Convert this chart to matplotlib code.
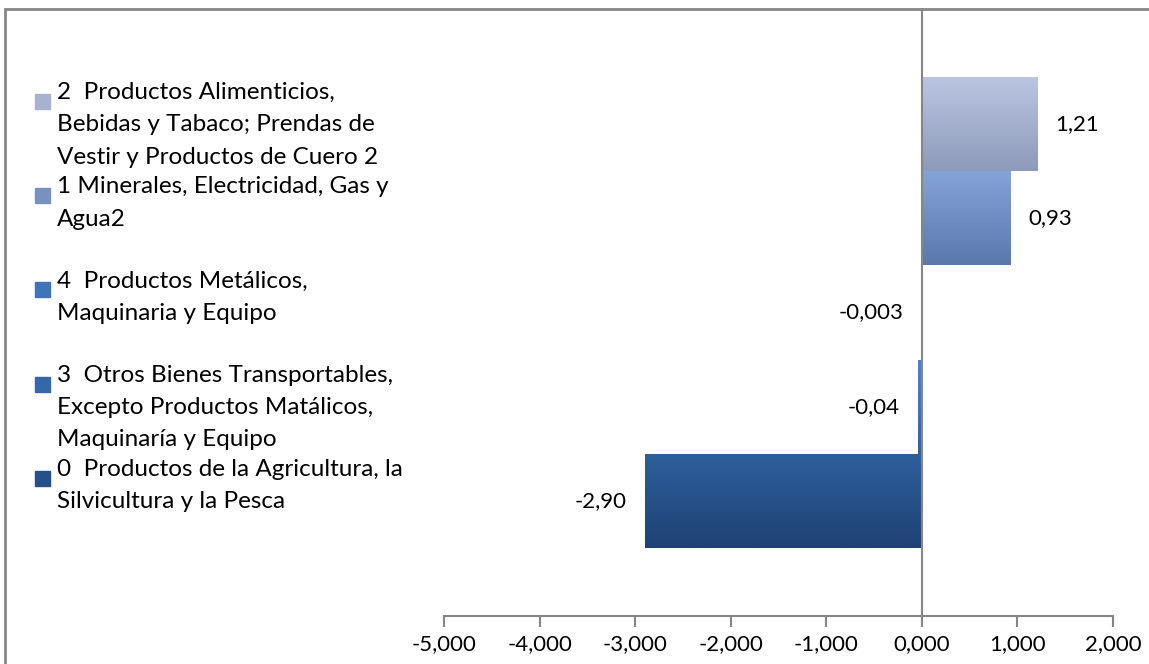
import numpy as np
import matplotlib
matplotlib.use('Agg')
import matplotlib.pyplot as plt
import matplotlib.transforms as mtransforms
from matplotlib.colors import LinearSegmentedColormap
from matplotlib.patches import Rectangle
from matplotlib.ticker import FuncFormatter, MultipleLocator

plt.rcParams['font.family'] = ['Lato', 'DejaVu Sans']

# Series, top to bottom as in the chart
labels = [
    "2  Productos Alimenticios,\nBebidas y Tabaco; Prendas de\nVestir y Productos de Cuero 2",
    "1 Minerales, Electricidad, Gas y\nAgua2",
    "4  Productos Metálicos,\nMaquinaria y Equipo",
    "3  Otros Bienes Transportables,\nExcepto Productos Matálicos,\nMaquinaría y Equipo",
    "0  Productos de la Agricultura, la\nSilvicultura y la Pesca",
]
values = [1.21, 0.93, -0.003, -0.04, -2.90]
value_text = ["1,21", "0,93", "-0,003", "-0,04", "-2,90"]

# gradient colours (top, bottom) and legend swatch colour
grad_top = ['#bac6e1', '#84a3d8', '#5a8bcb', '#4f83c4', '#2e5f9c']
grad_bot = ['#8d9aba', '#5a78aa', '#3a69a8', '#33629f', '#1e4275']
swatch = ['#a7b2ce', '#7891bf', '#3f74b8', '#3568a9', '#25508a']

gap = 1.44  # excel gap width relative to bar height
n = len(values)
y = np.arange(n)

fig = plt.figure(figsize=(11.49, 6.64), dpi=100)
ax = fig.add_axes([444 / 1149, 48 / 664, 669 / 1149, 607 / 664])

bars = ax.barh(y, values, height=1.0, color='none', edgecolor='none')

# gradient fill clipped to each bar
for i, b in enumerate(bars):
    cmap = LinearSegmentedColormap.from_list('g%d' % i, [grad_top[i], grad_bot[i]])
    x0 = min(0, values[i])
    x1 = max(0, values[i])
    grad = np.linspace(0, 1, 64).reshape(-1, 1)
    im = ax.imshow(grad, cmap=cmap, aspect='auto',
                   extent=(x0, x1, i + 0.5, i - 0.5), zorder=2,
                   interpolation='bilinear')
    im.set_clip_path(b)

ax.set_xlim(-5, 2)
ax.set_ylim(n - 0.5 + gap / 2, -0.5 - gap / 2)

# value labels
for i, v in enumerate(values):
    off = 18 if v > 0 else -18
    ax.annotate(value_text[i], xy=(v, i), xytext=(off, 0),
                textcoords='offset pixels', va='center',
                ha='left' if v > 0 else 'right', fontsize=16, color='black')

# axes styling
axis_col = '#868686'
for s in ['top', 'right']:
    ax.spines[s].set_visible(False)
ax.spines['left'].set_position(('data', 0))
ax.spines['left'].set_color(axis_col)
ax.spines['left'].set_linewidth(1.5)
ax.spines['bottom'].set_color(axis_col)
ax.spines['bottom'].set_linewidth(1.5)
ax.set_yticks([])
ax.xaxis.set_major_locator(MultipleLocator(1))
ax.xaxis.set_major_formatter(FuncFormatter(lambda v, p: f"{v:.3f}".replace('.', ',')))
ax.tick_params(axis='x', direction='out', length=8, width=1.5, color=axis_col,
               labelsize=16, pad=5)
ax.patch.set_alpha(0)

# legend drawn by hand, aligned with the top of each bar
trans = mtransforms.blended_transform_factory(fig.transFigure, ax.transData)
for i, lab in enumerate(labels):
    t_txt = trans + mtransforms.ScaledTranslation(0, -5 / 100, fig.dpi_scale_trans)
    fig.text(57 / 1149, i - 0.5, lab, transform=t_txt, ha='left', va='top',
             fontsize=17.5, linespacing=1.67)
    # 15 px square swatch next to the first line
    t_sw = trans + mtransforms.ScaledTranslation(35 / 100, -32 / 100, fig.dpi_scale_trans)
    t_sq = mtransforms.Affine2D().scale(15, 15) + mtransforms.Affine2D().translate(
        *(t_sw.transform((0, i - 0.5))))
    fig.patches.append(Rectangle((0, 0), 1, 1, transform=t_sq, color=swatch[i]))

# chart border
fig.patches.append(Rectangle((5 / 1149, -0.1), 2, (664 - 9) / 664 + 0.1,
                             transform=fig.transFigure, fill=False,
                             edgecolor=axis_col, linewidth=2))

fig.savefig('out.png', dpi=100)
